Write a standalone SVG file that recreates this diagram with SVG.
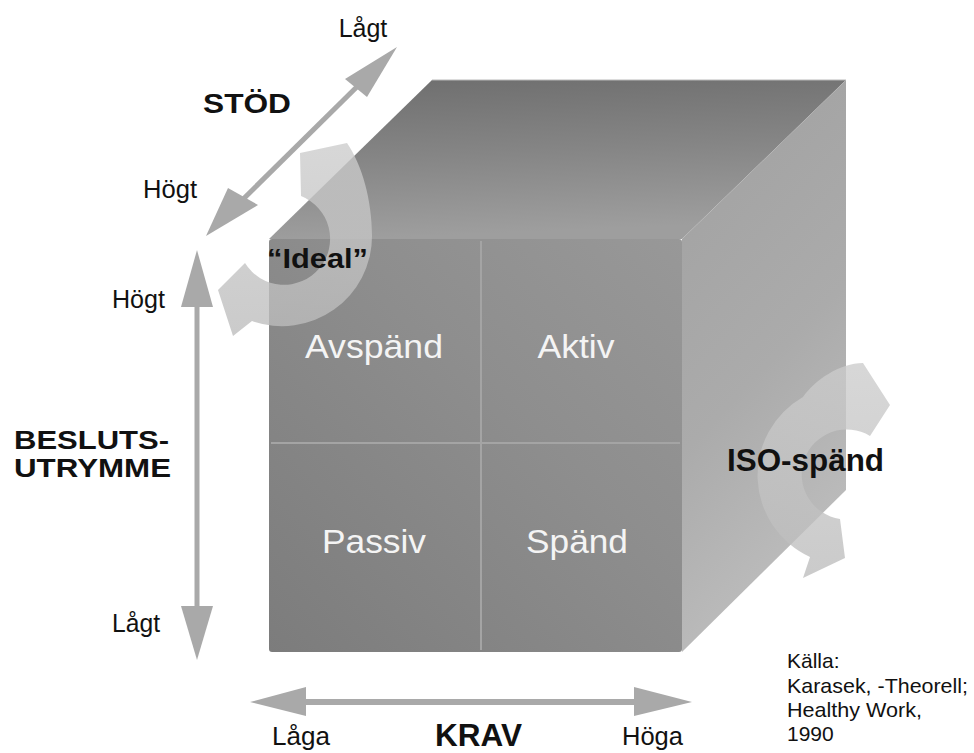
<svg xmlns="http://www.w3.org/2000/svg" width="974" height="753" viewBox="0 0 974 753">
<defs>
<linearGradient id="gTop" x1="0" y1="0" x2="0.15" y2="1">
<stop offset="0" stop-color="#6e6e6e"/><stop offset="0.5" stop-color="#858585"/><stop offset="1" stop-color="#9e9e9e"/>
</linearGradient>
<linearGradient id="gFront" x1="0" y1="1" x2="1" y2="0">
<stop offset="0" stop-color="#7c7c7c"/><stop offset="0.6" stop-color="#8e8e8e"/><stop offset="1" stop-color="#989898"/>
</linearGradient>
<linearGradient id="gRight" x1="0" y1="0" x2="0.3" y2="1">
<stop offset="0" stop-color="#a0a0a0"/><stop offset="0.6" stop-color="#ababab"/><stop offset="1" stop-color="#bdbdbd"/>
</linearGradient>
<linearGradient id="gRing" x1="0" y1="0" x2="0" y2="1">
<stop offset="0" stop-color="#cccccc"/><stop offset="1" stop-color="#bcbcbc"/>
</linearGradient>
<style>
.lbl{font-family:"Liberation Sans",Arial,sans-serif;fill:#111}
.b{font-weight:bold}
.q{font-family:"Liberation Sans",Arial,sans-serif;fill:#f4f4f4;font-size:33px;text-anchor:middle}
.arr{fill:#a9a9a9}
.ring{fill:url(#gRing);opacity:0.78}
.div{stroke:#a4a4a4;stroke-width:2;fill:none}
</style>
</defs>
<rect width="974" height="753" fill="#ffffff"/>

<g id="cube">
<polygon points="269,239 432,80 846,80 682,239" fill="url(#gTop)"/>
<polygon points="682,239 846,80 846,490 682,652" fill="url(#gRight)"/>
<rect x="269" y="239" width="413" height="413" rx="3" fill="url(#gFront)"/>
<line x1="432" y1="80" x2="846" y2="80" stroke="#b8b8b8" stroke-width="1"/>
<line class="div" x1="481" y1="241" x2="481" y2="650"/>
<line class="div" x1="271" y1="443" x2="680" y2="443"/>
</g>

<g id="quadrants">
<text class="q" x="374" y="358" textLength="138" lengthAdjust="spacingAndGlyphs">Avspänd</text>
<text class="q" x="576" y="358" textLength="77" lengthAdjust="spacingAndGlyphs">Aktiv</text>
<text class="q" x="374" y="553" textLength="104" lengthAdjust="spacingAndGlyphs">Passiv</text>
<text class="q" x="577" y="553" textLength="102" lengthAdjust="spacingAndGlyphs">Spänd</text>
</g>

<g id="ideal-ring">
<path class="ring" d="M 347,143 C 362,165 372,200 372,236 A 90 90 0 0 1 252,321 L 233,336 L 218,290 L 245,263 A 46 46 0 1 0 301,196 L 300,153 Z"/>
</g>

<g id="iso-ring">
<path class="ring" d="M 890,405 L 863,363 C 840,363 815,380 803,397 A 90 90 0 0 0 810,557 L 803,578 L 845,558 L 840,519 A 45 45 0 1 1 870,436 Z"/>
</g>

<g id="connectors">
<g id="arrow-stod">
<line x1="378" y1="66" x2="225" y2="217" stroke="#a9a9a9" stroke-width="5"/>
<polygon class="arr" points="397,47 345,79 367,97"/>
<polygon class="arr" points="206,236 228,188 258,205"/>
</g>
<g id="arrow-beslut">
<rect class="arr" x="194.5" y="300" width="5" height="315"/>
<polygon class="arr" points="197,250 181,307 213,307"/>
<polygon class="arr" points="197,660 181,606 213,606"/>
</g>
<g id="arrow-krav">
<rect class="arr" x="295" y="699" width="350" height="6"/>
<polygon class="arr" points="250,702 306,687 306,716"/>
<polygon class="arr" points="692,702 634,687 634,716"/>
</g>
</g>

<g id="labels">
<text class="lbl" x="363" y="37" font-size="25" text-anchor="middle">Lågt</text>
<text class="lbl b" x="203" y="113" font-size="27" textLength="88" lengthAdjust="spacingAndGlyphs">STÖD</text>
<text class="lbl" x="143" y="198" font-size="25" textLength="54" lengthAdjust="spacingAndGlyphs">Högt</text>
<text class="lbl b" x="267" y="268" font-size="28" textLength="101" lengthAdjust="spacingAndGlyphs">“Ideal”</text>
<text class="lbl" x="112" y="308" font-size="25" textLength="53" lengthAdjust="spacingAndGlyphs">Högt</text>
<text class="lbl b" font-size="25"><tspan x="14" y="449" textLength="155" lengthAdjust="spacingAndGlyphs">BESLUTS-</tspan><tspan x="14" y="477" textLength="157" lengthAdjust="spacingAndGlyphs">UTRYMME</tspan></text>
<text class="lbl" x="112" y="632" font-size="25" textLength="48" lengthAdjust="spacingAndGlyphs">Lågt</text>
<text class="lbl b" x="727" y="471" font-size="31" textLength="157" lengthAdjust="spacingAndGlyphs">ISO-spänd</text>
<text class="lbl" x="272" y="745" font-size="25" textLength="58" lengthAdjust="spacingAndGlyphs">Låga</text>
<text class="lbl b" x="435" y="746" font-size="31" textLength="87" lengthAdjust="spacingAndGlyphs">KRAV</text>
<text class="lbl" x="622" y="745" font-size="25" textLength="61" lengthAdjust="spacingAndGlyphs">Höga</text>
</g>

<g id="source">
<text class="lbl" x="787" y="668" font-size="21">Källa:</text>
<text class="lbl" x="787" y="693" font-size="21" textLength="181" lengthAdjust="spacingAndGlyphs">Karasek, -Theorell;</text>
<text class="lbl" x="787" y="717" font-size="21" textLength="135" lengthAdjust="spacingAndGlyphs">Healthy Work,</text>
<text class="lbl" x="787" y="741" font-size="21">1990</text>
</g>
</svg>
